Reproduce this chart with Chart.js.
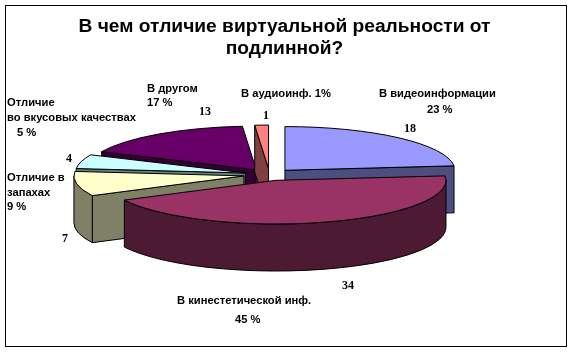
<!DOCTYPE html>
<html><head><meta charset="utf-8">
<style>html,body{margin:0;padding:0;background:#fff}#w{width:573px;height:353px}</style>
<script src="https://cdn.jsdelivr.net/npm/chart.js@4"></script>
</head><body><div id="w"><canvas id="c"></canvas></div>
<script>
const categories = ['В видеоинформации','В кинестетической инф.','Отличие в запахах','Отличие во вкусовых качествах','В другом','В аудиоинф.'];
const values = [18,34,7,4,13,1];
const topColors = ['#9999FF','#993366','#FFFFCC','#CCFFFF','#660066','#FF8080'];
const wallColors = ['#4D4D80','#4D1A33','#808066','#668080','#330033','#804040'];
const titleLines = ['В чем отличие виртуальной реальности от','подлинной?'];
const sliceLabels = [
 {t:'В видеоинформации',x:379,y:94},{t:'23 %',x:427,y:110},
 {t:'В аудиоинф. 1%',x:241,y:94},
 {t:'В другом',x:147,y:89},{t:'17 %',x:147,y:103},
 {t:'Отличие',x:7,y:103},{t:'во вкусовых качествах',x:7,y:118},{t:'5 %',x:17,y:133},
 {t:'Отличие в',x:7,y:178},{t:'запахах',x:7,y:193},{t:'9 %',x:7,y:207},
 {t:'В кинестетической инф.',x:177,y:301},{t:'45 %',x:235,y:320}
];
const valueLabelPos = [[410,129],[348,286],[65,239],[69,159],[205,112],[266,116]];
const squash = 0.257, depth = 47, explode = [23,23,26,25,23,23], shiftX = -15;
const drawOrder = [4,5,3,2,0,1];

const pie3d = {
 id:'pie3d',
 beforeDatasetDraw(chart,args){
  const ctx=chart.ctx, arcs=chart.getDatasetMeta(args.index).data;
  ctx.save();
  ctx.lineWidth=1; ctx.strokeStyle='#000'; ctx.lineJoin='round';
  for(const i of drawOrder){
   const a=arcs[i], r=a.outerRadius, ry=r*squash, s=a.startAngle, e=a.endAngle, mid=(s+e)/2;
   const off=a.options.offset;
   const cx=a.x+shiftX+Math.cos(mid)*off, cy=a.y+Math.sin(mid)*off*squash;
   ctx.fillStyle=wallColors[i];
   const face=(t)=>{
    const px=cx+r*Math.cos(t), py=cy+ry*Math.sin(t);
    ctx.beginPath();ctx.moveTo(cx,cy);ctx.lineTo(px,py);ctx.lineTo(px,py+depth);ctx.lineTo(cx,cy+depth);ctx.closePath();ctx.fill();ctx.stroke();
   };
   // cut faces turned towards the viewer
   if(Math.cos(s)<0) face(s);
   if(Math.cos(e)>0) face(e);
   // outer wall: lower half of the ellipse
   const ranges=[[s,e],[s-2*Math.PI,e-2*Math.PI],[s+2*Math.PI,e+2*Math.PI]];
   for(const [p,q] of ranges){
    const u=Math.max(p,0), v=Math.min(q,Math.PI);
    if(v>u){
     ctx.beginPath();
     ctx.ellipse(cx,cy,r,ry,0,u,v);
     ctx.ellipse(cx,cy+depth,r,ry,0,v,u,true);
     ctx.closePath();ctx.fill();ctx.stroke();
    }
   }
   ctx.fillStyle=topColors[i];
   ctx.beginPath();ctx.moveTo(cx,cy);ctx.ellipse(cx,cy,r,ry,0,s,e);ctx.closePath();ctx.fill();ctx.stroke();
  }
  ctx.restore();
  return false;
 },
 afterDraw(chart){
  const ctx=chart.ctx;
  ctx.save();
  ctx.strokeStyle='#000';ctx.lineWidth=1;ctx.strokeRect(5.5,5.5,561,341);
  ctx.fillStyle='#000';ctx.textBaseline='middle';ctx.textAlign='left';
  ctx.font='bold 11.2px "Liberation Sans"';
  sliceLabels.forEach(l=>ctx.fillText(l.t,l.x,l.y));
  ctx.font='bold 12px "Liberation Serif"';ctx.textAlign='center';
  values.forEach((v,i)=>ctx.fillText(String(v),valueLabelPos[i][0],valueLabelPos[i][1]));
  ctx.restore();
 }
};

new Chart(document.getElementById('c'),{
 type:'pie',
 data:{labels:categories,datasets:[{data:values,backgroundColor:topColors,borderColor:'#000',borderWidth:1,offset:explode}]},
 options:{
  responsive:true,maintainAspectRatio:false,animation:false,radius:170,
  layout:{padding:{left:0,right:4,top:0,bottom:64}},
  plugins:{
   legend:{display:false},tooltip:{enabled:false},
   title:{display:true,text:titleLines,color:'#000',align:'center',
     font:{family:'"Liberation Sans"',size:19.2,weight:'bold',lineHeight:1.18},padding:{top:15,bottom:0}}
  }
 },
 plugins:[pie3d]
});
</script></body></html>
